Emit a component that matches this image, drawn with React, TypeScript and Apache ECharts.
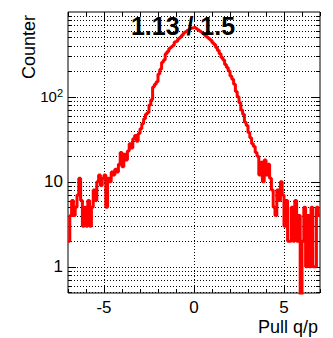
import { useEffect, useRef } from 'react';
import * as echarts from 'echarts';

const xMin = -7;
const xMax = 7;
const yMin = 0.491;
const yMax = 992;
const binStart = -7;
const binWidth = 0.1;

// counts per bin, x from -7 to 0
const countsLeft = [
  2, 4, 6, 4, 5, 7, 11, 6, 3, 5,
  3, 6, 3, 5, 8, 6, 10, 12, 9, 11,
  12, 5, 11, 10, 13, 12, 14, 13, 16, 22,
  15, 21, 18, 23, 28, 25, 32, 35, 30, 37,
  42, 48, 55, 62, 65, 80, 92, 130, 140, 150,
  185, 210, 255, 270, 320, 340, 370, 385, 400, 440,
  450, 480, 500, 530, 560, 580, 600, 620, 640, 650,
];
// counts per bin, x from 0 to 7
const countsRight = [
  650, 630, 610, 590, 570, 550, 520, 500, 480, 460,
  430, 410, 380, 350, 320, 290, 270, 240, 220, 200,
  175, 160, 140, 115, 100, 85, 70, 62, 50, 46,
  38, 33, 28, 26, 22, 20, 12, 17, 10, 18,
  12, 16, 11, 8, 5, 4, 8, 6, 10, 7,
  3, 6, 2, 2, 5, 2, 6, 2, 4, 0,
  2, 5, 1, 4, 1, 5, 1, 1, 5, 4,
];
const counts = [...countsLeft, ...countsRight];

const xMajorTicks = [-5, 0, 5];
const xMajorLabels = ['-5', '0', '5'];
const xMinorTicks = [-7, -6, -5, -4, -3, -2, -1, 0, 1, 2, 3, 4, 5, 6, 7];
const yMajorTicks = [1, 10, 100];
const yMajorLabels = ['1', '10', '{m|10}{s|2}'];
const yMinorTicks = [
  0.5, 0.6, 0.7, 0.8, 0.9,
  2, 3, 4, 5, 6, 7, 8, 9,
  20, 30, 40, 50, 60, 70, 80, 90,
  200, 300, 400, 500, 600, 700, 800, 900,
];
const titleText = '1.13 / 1.5';
const xAxisName = 'Pull q/p';
const yAxisName = 'Counter';

const FONT = "'Liberation Sans', Arial, Helvetica, sans-serif";

export default function App() {
  const ref = useRef<HTMLDivElement>(null);
  useEffect(() => {
    if (!ref.current) return;
    const chart = echarts.init(ref.current, null, { renderer: 'svg' });

    const stepData: number[][] = counts.map((c, i) => [
      Math.round((binStart + i * binWidth) * 10) / 10,
      c > 0 ? c : 0.05,
    ]);
    const last = counts[counts.length - 1];
    stepData.push([Math.round((binStart + counts.length * binWidth) * 10) / 10, last > 0 ? last : 0.05]);

    const yTickData = [...yMajorTicks, ...yMinorTicks].map((v) => [0, v]);
    const xTickData = xMinorTicks.map((v) => [v, 1]);

    const isMajorY = (v: number) => yMajorTicks.some((m) => Math.abs(m - v) < 1e-9);
    const isMajorX = (v: number) => xMajorTicks.some((m) => Math.abs(m - v) < 1e-9);

    const option: any = {
      animation: false,
      backgroundColor: '#fff',
      grid: {
        left: 68,
        top: 12,
        width: 252,
        height: 281,
        show: true,
        borderColor: '#000',
        borderWidth: 1,
        backgroundColor: 'transparent',
      },
      xAxis: {
        type: 'value',
        min: xMin,
        max: xMax,
        interval: 1,
        axisLine: { show: false },
        axisTick: { show: false },
        splitLine: { show: false },
        axisLabel: {
          margin: 6,
          fontFamily: FONT,
          fontSize: 17,
          color: '#000',
          formatter: (v: number) => {
            const i = xMajorTicks.findIndex((m) => Math.abs(m - v) < 1e-9);
            return i >= 0 ? xMajorLabels[i] : '';
          },
        },
      },
      yAxis: {
        type: 'log',
        logBase: 10,
        min: yMin,
        max: yMax,
        axisLine: { show: false },
        axisTick: { show: false },
        splitLine: { show: false },
        axisLabel: {
          margin: 5,
          fontFamily: FONT,
          fontSize: 17,
          color: '#000',
          showMinLabel: false,
          showMaxLabel: false,
          formatter: (v: number) => {
            const e = Math.log10(v);
            const r = Math.round(e);
            if (Math.abs(e - r) > 1e-6) return '';
            const i = yMajorTicks.findIndex((m) => Math.abs(Math.log10(m) - r) < 1e-9);
            return i >= 0 ? yMajorLabels[i] : '';
          },
          rich: {
            m: { fontFamily: FONT, fontSize: 15, color: '#000' },
            s: { fontFamily: FONT, fontSize: 11, color: '#000', padding: [0, 0, 8, 0] },
          },
        },
      },
      series: [
        {
          type: 'custom',
          z: 1,
          silent: true,
          data: yTickData,
          encode: { x: 0, y: 1 },
          renderItem: (params: any, api: any) => {
            const v = api.value(1);
            const cs = params.coordSys;
            const left = cs.x;
            const right = cs.x + cs.width;
            const y = Math.round(api.coord([0, v])[1]) + 0.5;
            const len = isMajorY(v) ? 8 : 4;
            return {
              type: 'group',
              children: [
                { type: 'line', shape: { x1: left, y1: y, x2: right, y2: y }, style: { stroke: '#000', lineWidth: 1, lineDash: [1, 2] } },
                { type: 'line', shape: { x1: left, y1: y, x2: left + len, y2: y }, style: { stroke: '#000', lineWidth: 1 } },
                { type: 'line', shape: { x1: right - len, y1: y, x2: right, y2: y }, style: { stroke: '#000', lineWidth: 1 } },
              ],
            };
          },
        },
        {
          type: 'custom',
          z: 1,
          silent: true,
          data: xTickData,
          encode: { x: 0, y: 1 },
          renderItem: (params: any, api: any) => {
            const v = api.value(0);
            const cs = params.coordSys;
            const top = cs.y;
            const bottom = cs.y + cs.height;
            const x = Math.round(api.coord([v, 1])[0]) + 0.5;
            const major = isMajorX(v);
            const len = major ? 8 : 4;
            const children: any[] = [
              { type: 'line', shape: { x1: x, y1: bottom, x2: x, y2: bottom - len }, style: { stroke: '#000', lineWidth: 1 } },
              { type: 'line', shape: { x1: x, y1: top, x2: x, y2: top + len }, style: { stroke: '#000', lineWidth: 1 } },
            ];
            if (major) {
              children.unshift({ type: 'line', shape: { x1: x, y1: top, x2: x, y2: bottom }, style: { stroke: '#000', lineWidth: 1, lineDash: [1, 2] } });
            }
            return { type: 'group', children };
          },
        },
        {
          type: 'line',
          z: 3,
          step: 'end',
          data: stepData,
          showSymbol: false,
          symbol: 'none',
          clip: true,
          lineStyle: { color: '#ff0000', width: 3 },
        },
      ],
      graphic: [
        {
          type: 'text',
          z: 10,
          x: 183,
          y: 26,
          style: {
            text: titleText,
            fontFamily: FONT,
            fontWeight: 'bold',
            fontSize: 25,
            fill: '#000',
            textAlign: 'center',
            textVerticalAlign: 'middle',
          },
        },
        {
          type: 'text',
          x: 318,
          y: 326.5,
          style: {
            text: xAxisName,
            fontFamily: FONT,
            fontSize: 18,
            fill: '#000',
            textAlign: 'right',
            textVerticalAlign: 'middle',
          },
        },
        {
          type: 'text',
          x: 29,
          y: 15,
          rotation: Math.PI / 2,
          style: {
            text: yAxisName,
            fontFamily: FONT,
            fontSize: 18,
            fill: '#000',
            textAlign: 'right',
            textVerticalAlign: 'middle',
          },
        },
      ],
    };
    chart.setOption(option);
    return () => chart.dispose();
  }, []);
  return (
    <div
      ref={ref}
      style={{ position: 'absolute', left: 0, top: 0, width: 333, height: 338, background: '#fff' }}
    />
  );
}
